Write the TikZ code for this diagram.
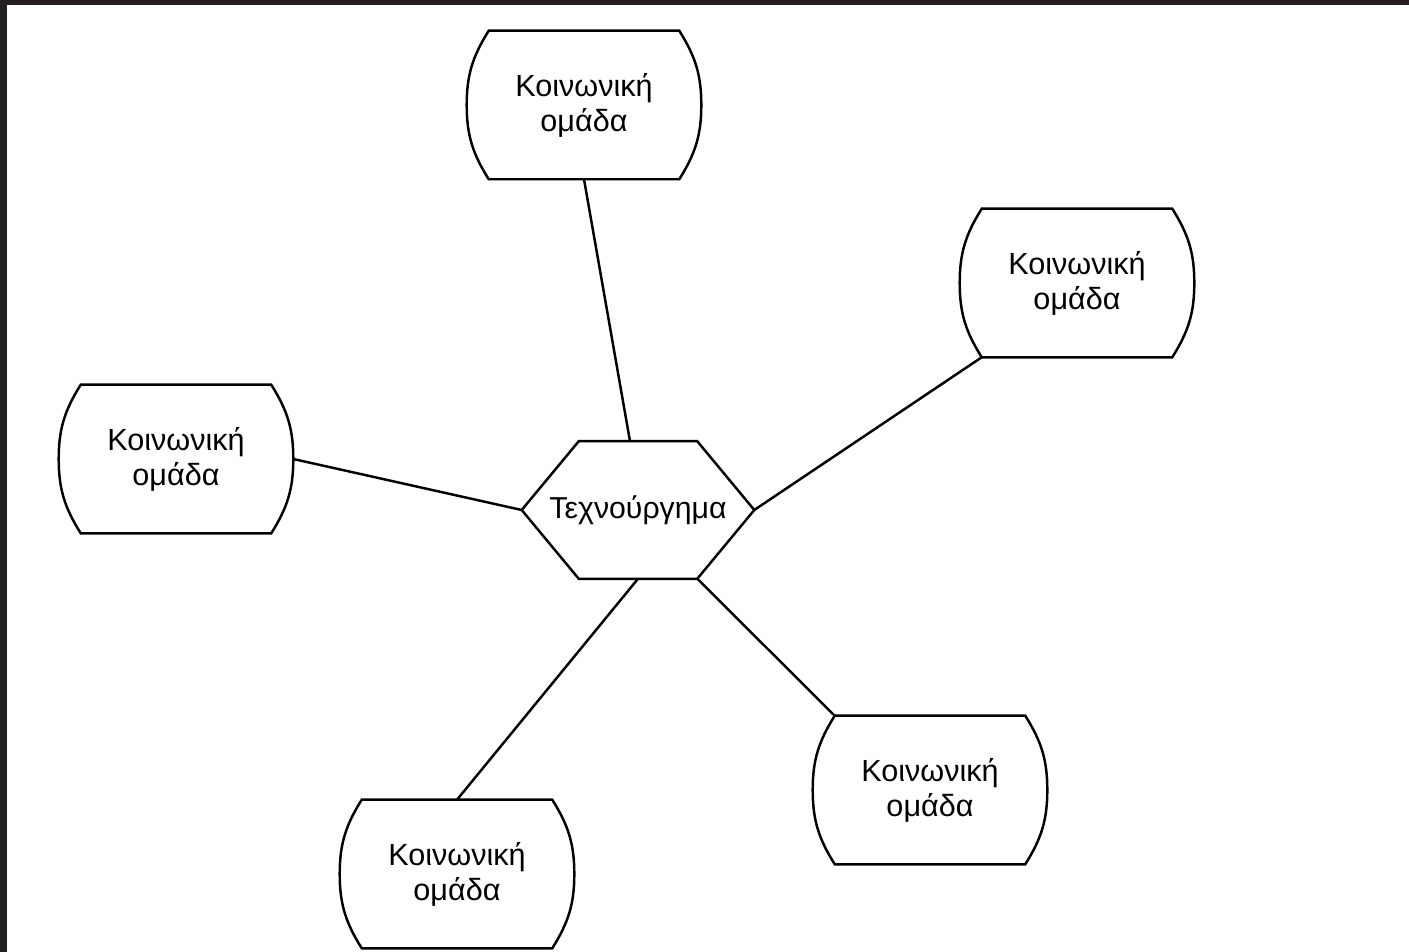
\documentclass[tikz,border=0pt]{standalone}
\usepackage{fontspec}
\setmainfont{Liberation Sans}
\definecolor{frame}{HTML}{231F20}
\begin{document}
\begin{tikzpicture}[x=0.01cm,y=-0.01cm,line width=0.7pt,
    omada/.style={minimum width=2.32cm,minimum height=1.46cm,inner sep=0pt,
      align=center,font=\fontsize{8.7}{10}\selectfont},
    hexa/.style={minimum width=2.3cm,minimum height=1.35cm,inner sep=0pt,
      font=\fontsize{8.6}{10}\selectfont}]
    \useasboundingbox (0,0) rectangle (1409,952);
    \fill[frame] (0,0) rectangle (1409,5);
    \fill[frame] (0,0) rectangle (7,952);
    % groups and artefact
    \node[hexa] (hex) at (638,510) {Τεχνούργημα};
    \node[omada] (g1) at (584,105) {Κοινωνική\\ομάδα};
    \node[omada] (g2) at (1077,283) {Κοινωνική\\ομάδα};
    \node[omada] (g3) at (176,459) {Κοινωνική\\ομάδα};
    \node[omada] (g4) at (930,790) {Κοινωνική\\ομάδα};
    \node[omada] (g5) at (457,874) {Κοινωνική\\ομάδα};
    \draw (hex.west) -- ([xshift=0.57cm]hex.north west) -- ([xshift=-0.57cm]hex.north east)
      -- (hex.east) -- ([xshift=-0.57cm]hex.south east) -- ([xshift=0.57cm]hex.south west) -- cycle;
    \foreach \g in {g1,g2,g3,g4,g5}
      \draw ([xshift=0.22cm]\g.north west) -- ([xshift=-0.22cm]\g.north east)
        to[out=-58,in=90] (\g.east) to[out=-90,in=58] ([xshift=-0.22cm]\g.south east)
        -- ([xshift=0.22cm]\g.south west) to[out=122,in=-90] (\g.west)
        to[out=90,in=-122] ([xshift=0.22cm]\g.north west) -- cycle;
    % links
    \draw (g1.south) -- ([xshift=-0.08cm]hex.north);
    \draw ([xshift=0.22cm]g2.south west) -- (hex.east);
    \draw (g3.east) -- (hex.west);
    \draw ([xshift=0.22cm]g4.north west) -- ([xshift=-0.57cm]hex.south east);
    \draw (g5.north) -- (hex.south);
\end{tikzpicture}
\end{document}
